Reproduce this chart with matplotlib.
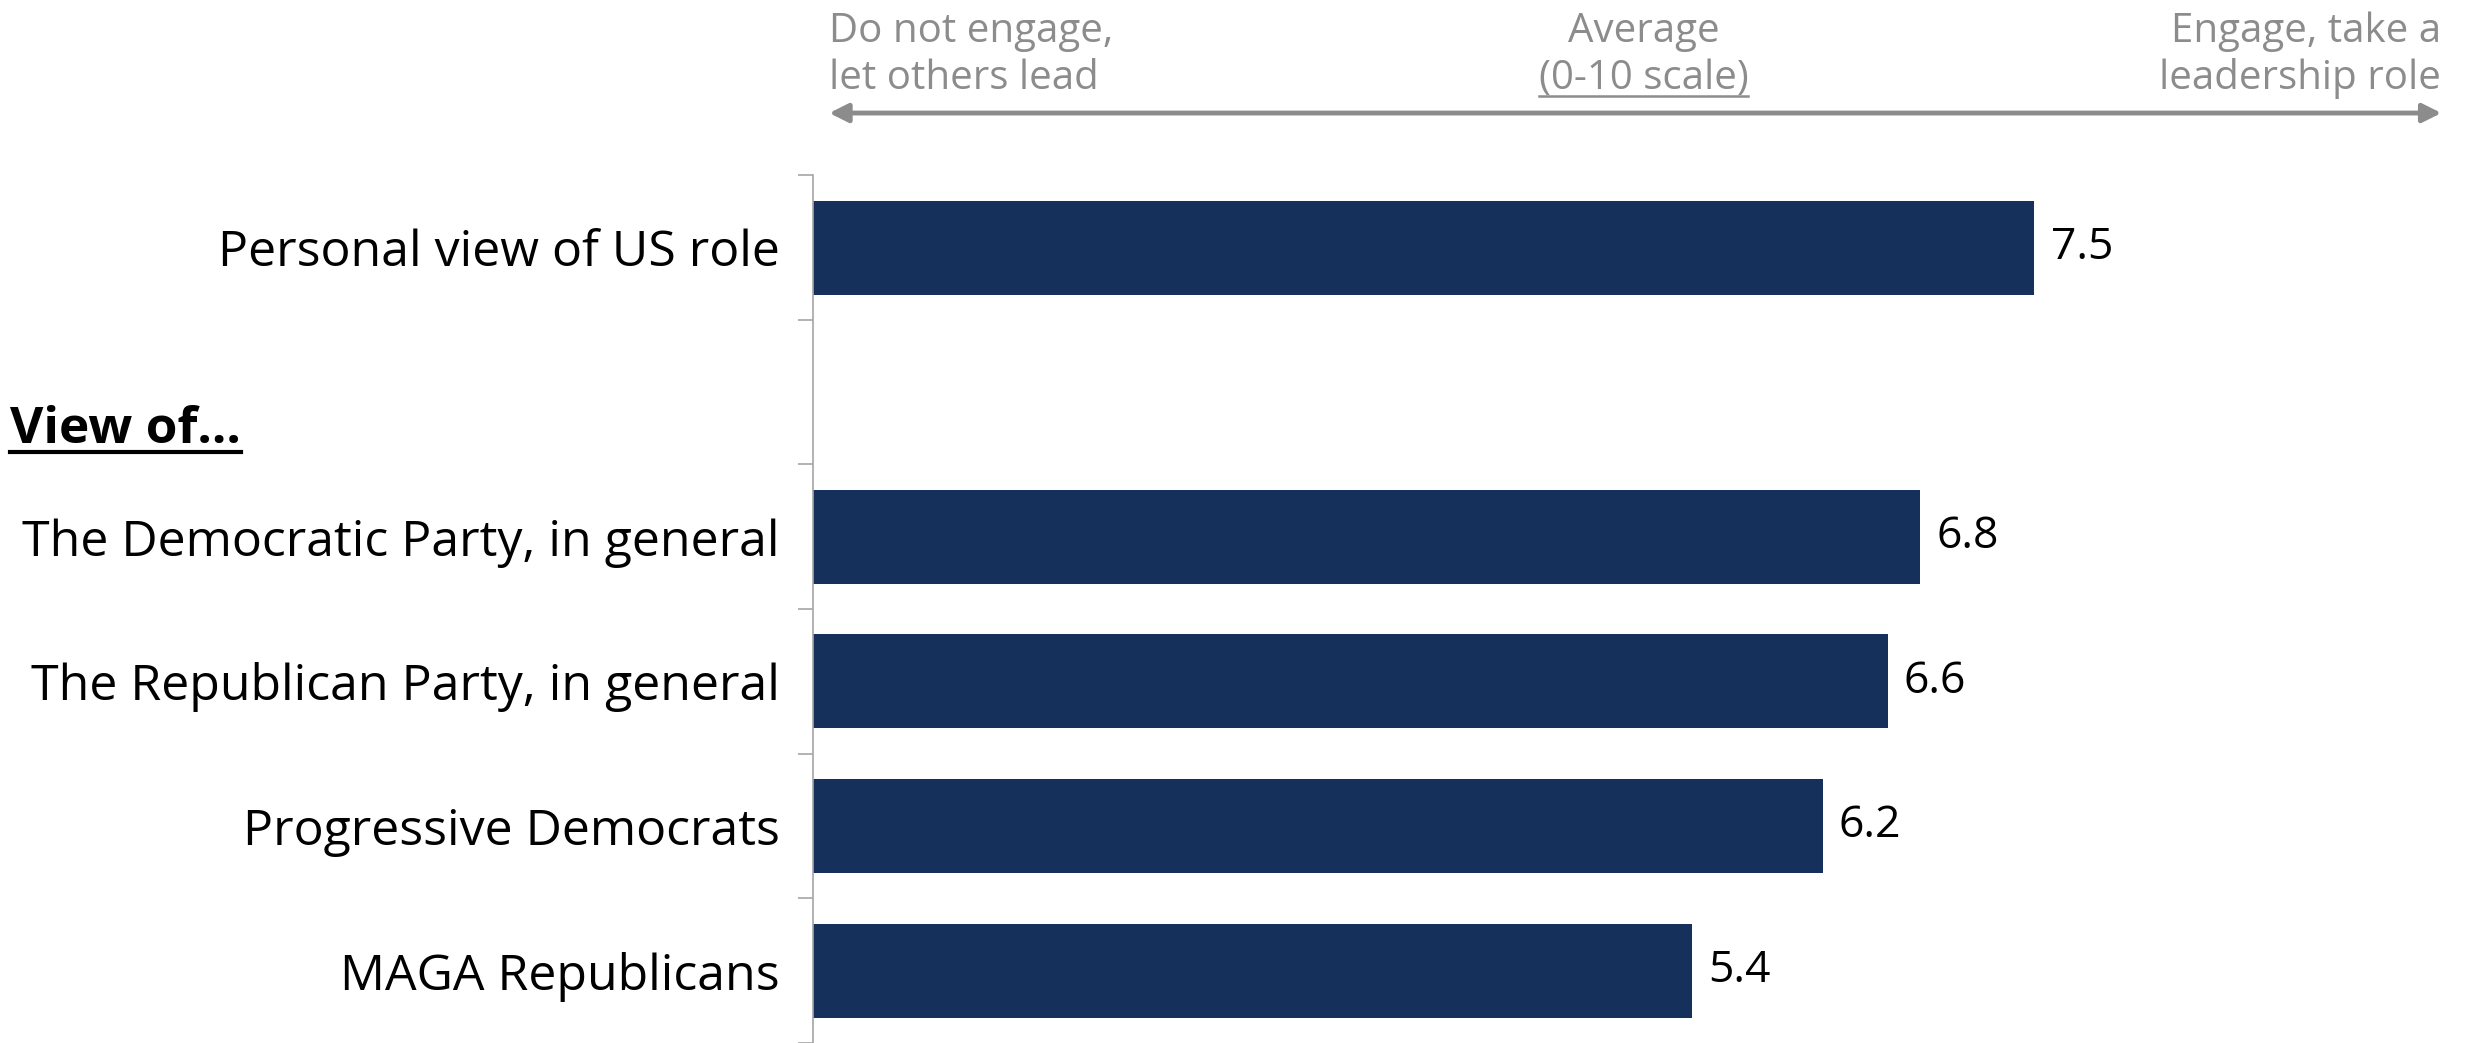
import matplotlib
matplotlib.use('Agg')
from matplotlib import pyplot as plt
from matplotlib.lines import Line2D

# data
categories = ['Personal view of US role', '',
              'The Democratic Party, in general', 'The Republican Party, in general',
              'Progressive Democrats', 'MAGA Republicans']
values = [7.5, None, 6.8, 6.6, 6.2, 5.4]
value_labels = ['7.5', '', '6.8', '6.6', '6.2', '5.4']
group_header = 'View of...'
scale_left = ['Do not engage,', 'let others lead']
scale_mid = ['Average', '(0-10 scale)']
scale_right = ['Engage, take a', 'leadership role']

plt.rcParams['font.family'] = ['Open Sans', 'DejaVu Sans']

bar_color = '#15305a'
gray = '#8c8c8c'

fig = plt.figure(figsize=(24.71, 10.43), dpi=100)
ax = fig.add_axes([0.329, 0.0, 0.659, 0.832])

pos = list(range(len(categories)))
for i, v in enumerate(values):
    if v is None:
        continue
    ax.barh(i, v, height=0.65, color=bar_color)
    ax.text(v + 0.1, i, value_labels[i], va='center', ha='left', fontsize=32, color='black')

ax.set_xlim(0, 10)
ax.set_ylim(len(categories) - 0.5, -0.5)

ax.set_yticks(pos)
ax.set_yticklabels(categories, fontsize=36)
ax.tick_params(axis='y', which='major', length=0, pad=24)
ax.set_yticks([p - 0.5 for p in pos] + [len(categories) - 0.5], minor=True)
ax.tick_params(axis='y', which='minor', length=11, color='#a6a6a6', width=1.2)
ax.set_xticks([])

for s in ['top', 'right', 'bottom']:
    ax.spines[s].set_visible(False)
ax.spines['left'].set_color('#a6a6a6')
ax.spines['left'].set_linewidth(1.2)

# group header
hdr = fig.text(0.004, 1 - 273 * 1.576 / 1043, group_header, fontsize=37, fontweight='bold',
               ha='left', va='center')

# scale arrow on top
ax.annotate('', xy=(0.1, -0.93), xytext=(10.0, -0.93), xycoords='data',
            arrowprops=dict(arrowstyle='<|-|>', color=gray, lw=3.5, mutation_scale=28,
                            shrinkA=0, shrinkB=0), annotation_clip=False)
line_y = [-1.424, -1.098]
mid_texts = []
for k in range(2):
    ax.text(0.1, line_y[k], scale_left[k], ha='left', va='baseline', fontsize=29,
            color=gray, clip_on=False)
    ax.text(10.0, line_y[k], scale_right[k], ha='right', va='baseline', fontsize=29,
            color=gray, clip_on=False)
    mid_texts.append(ax.text(5.1, line_y[k], scale_mid[k], ha='center', va='baseline',
                             fontsize=29, color=gray, clip_on=False))


def underline(t, color, lw):
    fig.canvas.draw()
    bb = t.get_window_extent().transformed(fig.transFigure.inverted())
    y = bb.y0 + bb.height * 0.06
    fig.add_artist(Line2D([bb.x0, bb.x1], [y, y], color=color, lw=lw,
                          transform=fig.transFigure))


underline(hdr, 'black', 3)
underline(mid_texts[1], gray, 1.8)

plt.savefig('out.png', dpi=100)
